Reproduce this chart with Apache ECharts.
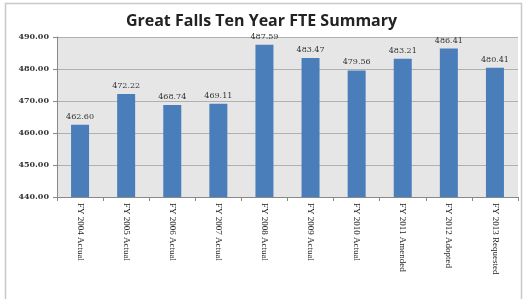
<!DOCTYPE html>
<html>
<head>
<meta charset="utf-8">
<script src="https://cdn.jsdelivr.net/npm/echarts@6/dist/echarts.min.js"></script>
<style>
html,body{margin:0;padding:0;background:#fff;}
#main{width:523px;height:299px;}
</style>
</head>
<body>
<div id="main"></div>
<script>
//类目名称
var categories = ['FY 2004 Actual', 'FY 2005 Actual', 'FY 2006 Actual', 'FY 2007 Actual', 'FY 2008 Actual', 'FY 2009 Actual', 'FY 2010 Actual', 'FY 2011 Amended', 'FY 2012 Adopted', 'FY 2013 Requested'];
//FTE数值
var fteValues = [462.60, 472.22, 468.74, 469.11, 487.59, 483.47, 479.56, 483.21, 486.41, 480.41];
//y轴范围
var yMin = 440;
var yMax = 490;
var yStep = 10;

var mychart = echarts.init(document.getElementById('main'));

var option = {
	animation: false,
	backgroundColor: '#fff',
	title: {
		text: 'Great Falls Ten Year FTE Summary',
		left: 'center',
		top: 8,
		textStyle: {
			fontFamily: 'Open Sans',
			fontWeight: 'bold',
			fontSize: 16,
			color: '#222'
		}
	},
	graphic: [{
		type: 'rect',
		shape: { x: 5.5, y: 3.5, width: 516, height: 300 },
		style: { fill: 'none', stroke: '#c8c8c8', lineWidth: 1.5 },
		silent: true
	}],
	grid: {
		left: 57,
		right: 5,
		top: 37,
		bottom: 102,
		show: true,
		backgroundColor: '#e6e6e6',
		borderWidth: 0
	},
	xAxis: [{
		type: 'category',
		data: categories,
		axisLine: { show: true, lineStyle: { color: '#888', width: 1 } },
		axisTick: { show: true, length: 4, lineStyle: { color: '#888' } },
		axisLabel: {
			rotate: -90,
			margin: 6,
			fontFamily: 'Liberation Serif',
			fontSize: 9,
			color: '#222'
		}
	}],
	yAxis: [{
		type: 'value',
		min: yMin,
		max: yMax,
		interval: yStep,
		axisLine: { show: true, lineStyle: { color: '#888', width: 1 } },
		axisTick: { show: true, length: 4, lineStyle: { color: '#888' } },
		splitLine: { show: true, lineStyle: { color: '#b0b0b0', width: 1 } },
		axisLabel: {
			margin: 8,
			fontFamily: 'DejaVu Serif',
			fontWeight: 'bold',
			fontSize: 8,
			color: '#333',
			formatter: function (v) { return v.toFixed(2); }
		}
	}],
	series: [{
		type: 'bar',
		data: fteValues,
		barWidth: 18,
		itemStyle: { color: '#4a7ebb' },
		label: {
			show: true,
			position: 'top',
			distance: 4,
			fontFamily: 'DejaVu Serif',
			fontSize: 8,
			color: '#333',
			formatter: function (p) { return p.value.toFixed(2); }
		}
	}]
};
mychart.setOption(option);
</script>
</body>
</html>
